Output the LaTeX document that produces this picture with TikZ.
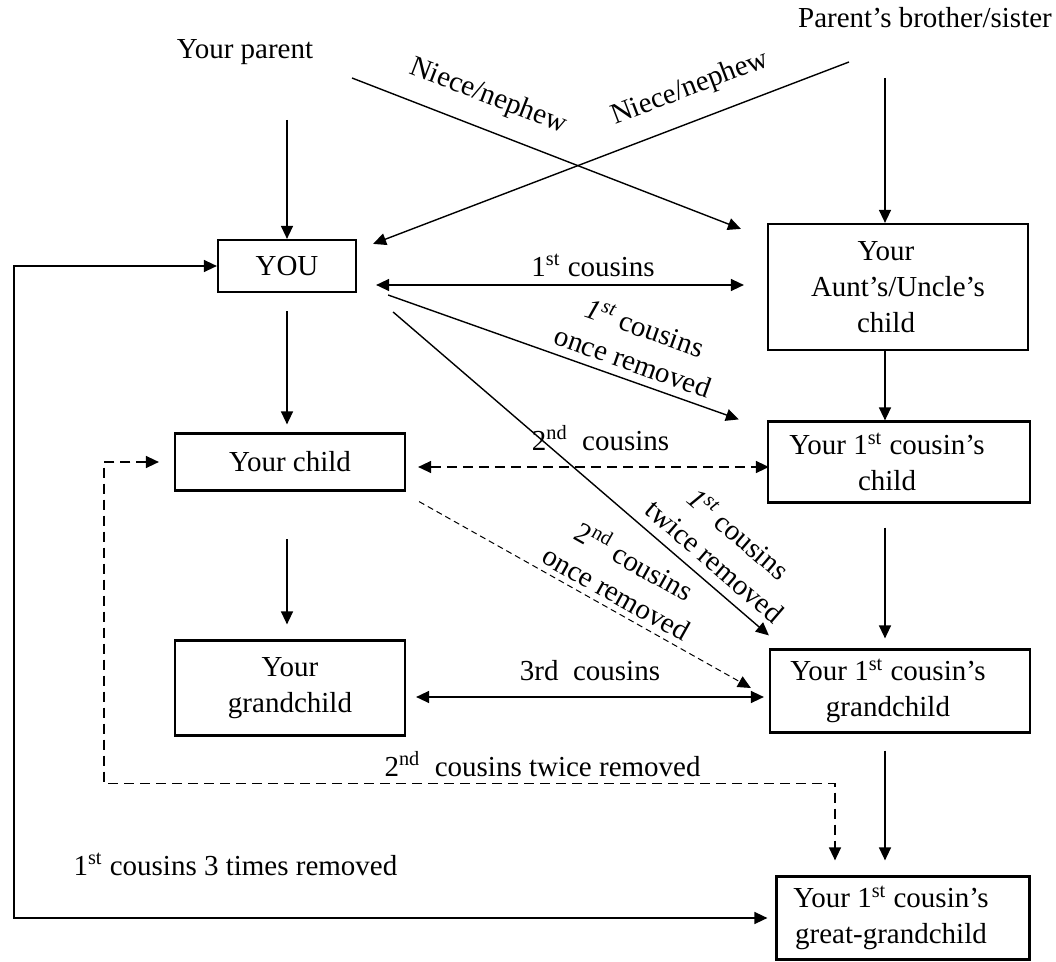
\documentclass[tikz,border=0pt]{standalone}
\usepackage{fontspec}
\setmainfont{Liberation Serif}
\usetikzlibrary{arrows.meta}
\newcommand{\padr}{\hspace*{12pt}}

\begin{document}
\begin{tikzpicture}[x=0.5pt, y=-0.5pt, font=\fontsize{14.5}{18}\selectfont,
        box/.style={draw, line width=1.1pt, align=center, inner sep=0pt},
        arr/.style={line width=0.7pt, -{Triangle[length=6.5pt,width=6pt]}},
        larr/.style={line width=0.7pt, {Triangle[length=6.5pt,width=6pt]}-},
        dbl/.style={line width=0.7pt, {Triangle[length=6.5pt,width=6pt]}-{Triangle[length=6.5pt,width=6pt]}},
        lbl/.style={align=center, inner sep=1pt}]
            \useasboundingbox (0,0) rectangle (1056,962);

            \node (par) at (245,52) {Your parent};
            \node (sib) at (925,18) {Parent’s brother/sister};

            \node[box, minimum width=69pt, minimum height=26pt] (you) at (287,266) {YOU};
            \node[box, minimum width=130pt, minimum height=63pt] (aunt) at (898,287) {Your\padr\\Aunt’s/Uncle’s\hspace*{6pt}\\child\padr};
            \node[box, minimum width=115pt, minimum height=28.5pt] (child) at (290,462) {Your child};
            \node[box, minimum width=131pt, minimum height=40.5pt] (cchild) at (899,462) {Your 1\textsuperscript{st} cousin’s\padr\\child\padr};
            \node[box, minimum width=115pt, minimum height=47.5pt] (gchild) at (290,688) {Your\\grandchild};
            \node[box, minimum width=130pt, minimum height=41.5pt] (cgchild) at (900,691) {Your 1\textsuperscript{st} cousin’s\padr\\grandchild\padr};
            \node[box, minimum width=126.5pt, minimum height=41.5pt] (ggchild) at (903,918) {Your 1\textsuperscript{st} cousin’s\padr\\great-grandchild\padr};

            \coordinate (pa) at (287,120);
            \coordinate (sb) at (885,78);
            \coordinate (n1) at (352,78);
            \coordinate (n2) at (849,62);

            \draw[arr] (pa) -- (you.north);
            \draw[arr] (sb) -- (sb |- aunt.north);
            \draw[arr] (n1) -- ([shift={(-26,6)}]aunt.north west)
                node[lbl, pos=0.32, sloped, above=8pt] {Niece/nephew};
            \draw[larr] ([shift={(16,5)}]you.north east) -- (n2)
                node[lbl, pos=0.69, sloped, above=8pt] {Niece/nephew};

            \draw[arr, shorten <=9pt, shorten >=4pt] (you.south) -- (you.south |- child.north);
            \draw[arr, shorten <=11pt, shorten >=7.5pt] (you.south) ++(0,224) -- (you.south |- gchild.north);
            \draw[arr] ([xshift=-6.5pt]aunt.south) -- ([xshift=-6.5pt]aunt.south |- cchild.north);
            \draw[arr, shorten <=12pt, shorten >=5pt] ([xshift=-7pt]cchild.south) -- ([xshift=-7pt]cchild.south |- cgchild.north);
            \draw[arr, shorten <=8.5pt, shorten >=7.5pt] ([xshift=-7.5pt]cgchild.south) -- ([xshift=-7.5pt]cgchild.south |- ggchild.north);

            \draw[dbl] ([shift={(19,19)}]you.east) -- ([shift={(-23,-2)}]aunt.west)
                node[lbl, pos=0.59, above=3pt] {1\textsuperscript{st} cousins};
            \draw[arr] ([shift={(31,29)}]you.east) -- ([shift={(-28,-1)}]cchild.north west)
                node[lbl, pos=0.68, sloped, above=3pt] {\textit{1\textsuperscript{st}} cousins\\once removed};
            \draw[arr] ([shift={(36,46)}]you.east) -- ([shift={(0,-13)}]cgchild.north west)
                node[lbl, pos=0.82, sloped, above=4pt] {\textit{1\textsuperscript{st}} cousins\\twice removed};

            \draw[dbl, dash pattern=on 5pt off 3pt] ([shift={(12,5)}]child.east) -- ([shift={(2,5)}]cchild.west)
                node[lbl, pos=0.52, above=7pt] {2\textsuperscript{nd}~ cousins};
            \draw[arr, line width=0.5pt, dash pattern=on 3pt off 2pt] ([shift={(13,10)}]child.south east) -- ([shift={(-18,-3)}]cgchild.west)
                node[lbl, pos=0.57, sloped, above=2pt] {2\textsuperscript{nd} cousins\\once removed};
            \draw[dbl] ([shift={(10,9)}]gchild.east) -- ([shift={(-5,6)}]cgchild.west)
                node[lbl, pos=0.5, above=7pt] {3rd~ cousins};

            \draw[dbl, dash pattern=on 5pt off 3pt] ([shift={(-15,0)}]child.west) -- ++(-55,0)
                |- ([shift={(-68,-92)}]ggchild.north)
                node[lbl, pos=0.8, above=2pt] {2\textsuperscript{nd}~ cousins twice removed}
                -- ([shift={(-68,-15)}]ggchild.north);
            \draw[dbl] (you.west) -- ++(-203,0) |- ([xshift=-4pt]ggchild.west)
                node[lbl, pos=0.647, above=20pt] {1\textsuperscript{st} cousins 3 times removed};
        \end{tikzpicture}
\end{document}
